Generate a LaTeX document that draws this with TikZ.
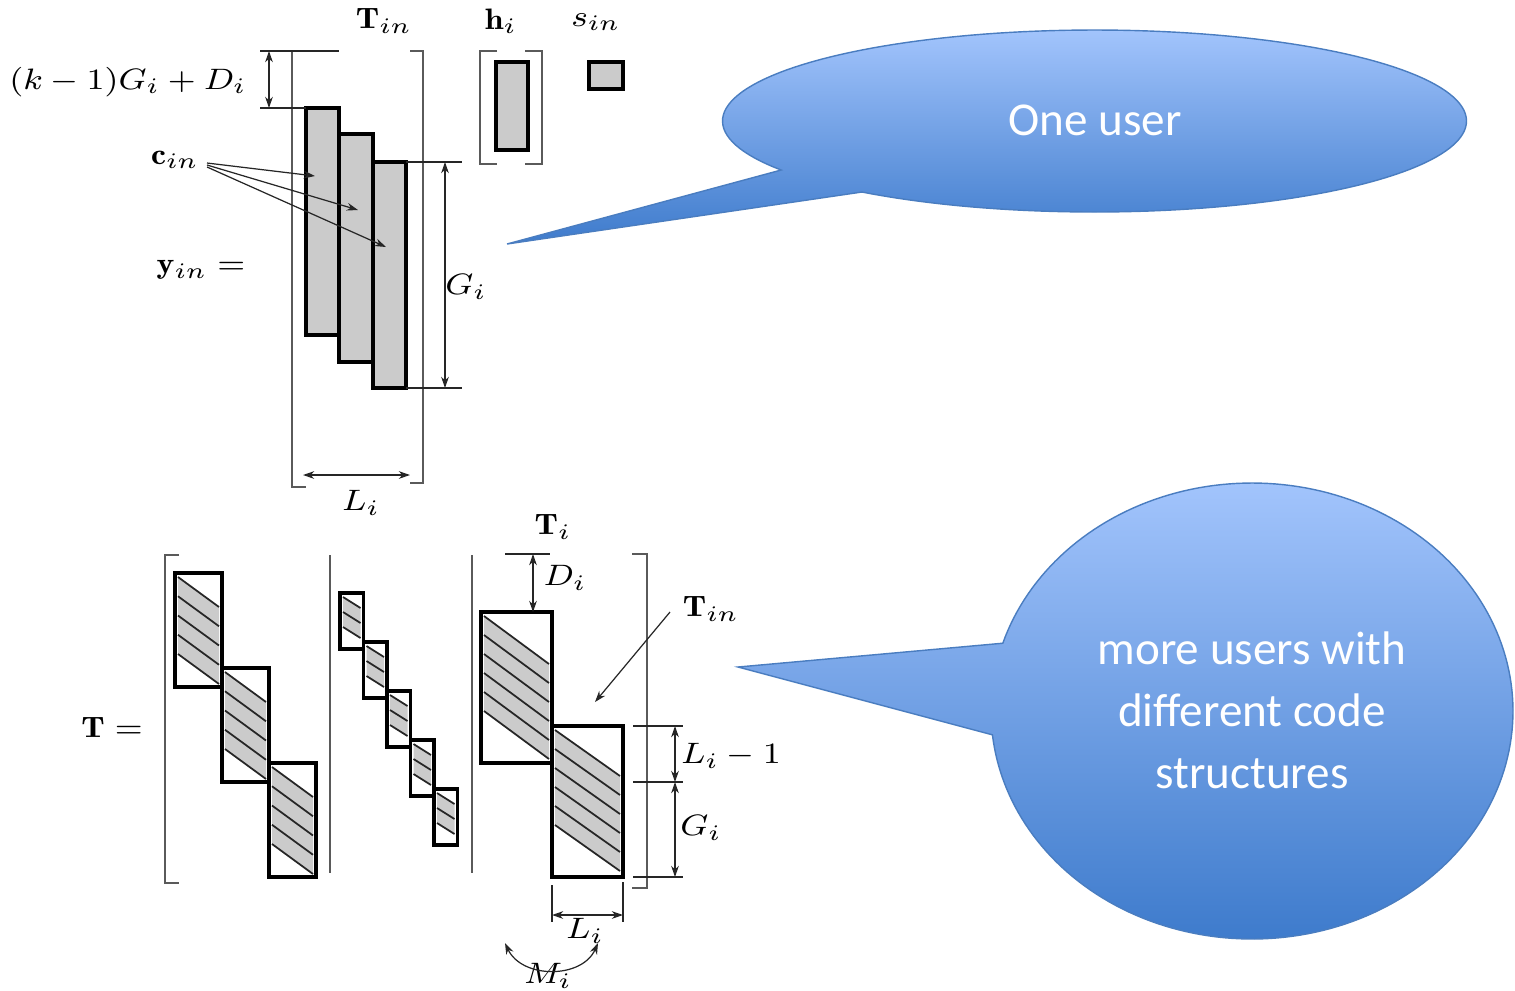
\documentclass[tikz,border=0pt]{standalone}
\usepackage{fontspec}
\usepackage{graphicx}
\newfontfamily\calloutfont{Carlito}
\usetikzlibrary{arrows.meta}

\definecolor{brk}{HTML}{5A5A5A}
\definecolor{boxgrey}{HTML}{CBCBCB}
\definecolor{bubtop}{HTML}{A2C4FC}
\definecolor{bubbot}{HTML}{3E7BCC}
\definecolor{bubedge}{HTML}{4A7DC0}

% math labels are set slightly wider than their natural shape
\newcommand{\lbl}[1]{\scalebox{1.2}[1.05]{$#1$}}

% hatched band block: x, y, width, height, band slope drop, band height, number of lines
\newcommand{\hblock}[7]{%
  \fill[hfill] ({#1+3},{#2+4}) -- ({#1+#3-3},{#2+4+#5}) -- ({#1+#3-3},{#2+4+#5+#6}) -- ({#1+3},{#2+4+#6}) -- cycle;
  \pgfmathtruncatemacro{\nlast}{#7-1}
  \foreach \k in {0,...,\nlast}{
    \draw[hline] ({#1+3},{#2+4+\k*#6/\nlast}) -- ({#1+#3-3},{#2+4+#5+\k*#6/\nlast});
  }
  \draw[blk] (#1,#2) rectangle ++(#3,#4);
}

\tikzset{
  lab/.style={inner sep=0pt, font=\fontsize{8}{10}\selectfont},
  brack/.style={draw=brk, line width=0.55pt},
  sepline/.style={draw=brk, line width=0.55pt},
  blk/.style={draw=black, line width=0.9pt},
  gbox/.style={blk, fill=boxgrey},
  dimline/.style={draw=black!85, line width=0.35pt},
  dimarr/.style={dimline, {Stealth[length=3.2pt,width=2.2pt]}-{Stealth[length=3.2pt,width=2.2pt]}},
  ptr/.style={dimline, -{Stealth[length=3.2pt,width=2.2pt]}},
  hfill/.style={fill=boxgrey},
  hline/.style={draw=black!85, line width=0.5pt},
  bubble/.style={top color=bubtop, bottom color=bubbot, draw=bubedge, line width=0.4pt},
  bubtext/.style={text=white, align=center, inner sep=0pt, font=\calloutfont\fontsize{13.4}{17.6}\selectfont},
}

\begin{document}
\begin{tikzpicture}[x=0.01cm, y=-0.01cm]
\useasboundingbox (0,0) rectangle (1515,990);

% ---------- single user: y_in = T_in h_i s_in ----------
\node[lab] (tinTop) at (384,21) {\lbl{\mathbf{T}_{in}}};
\node[lab] (hiLab) at (501,21) {\lbl{\mathbf{h}_i}};
\node[lab] (sinLab) at (596,22) {\lbl{s_{in}}};
\node[lab] (kgdLab) at (128,82) {\lbl{(k-1)G_i+D_i}};
\node[lab] (cinLab) at (175,160) {\lbl{\mathbf{c}_{in}}};
\node[lab] (yinLab) at (201,270) {\lbl{\mathbf{y}_{in}=}};
\node[lab] (giTop) at (466,287) {\lbl{G_i}};
\node[lab] (liTop) at (361,503) {\lbl{L_i}};

% matrix brackets
\draw[brack] (305,51) -- (292,51) -- (292,487) -- (306,487);
\draw[brack] (410,51) -- (423,51) -- (423,483) -- (410,483);
\draw[brack] (497,51) -- (480,51) -- (480,164) -- (497,164);
\draw[brack] (525,51) -- (542,51) -- (542,164) -- (525,164);

% code columns and the vectors
\draw[gbox] (306,108) rectangle (339,335);
\draw[gbox] (339,134) rectangle (373,362);
\draw[gbox] (373,162) rectangle (406,388);
\draw[gbox] (496,62) rectangle (528,150);
\draw[gbox] (589,62) rectangle (623,89);

% dimensions
\draw[dimline] (260,51) -- (339,51);
\draw[dimline] (260,108) -- (306,108);
\draw[dimarr] (269,51) -- (269,108);
\draw[dimline] (406,162) -- (462,162);
\draw[dimline] (406,388) -- (462,388);
\draw[dimarr] (445,162) -- (445,388);
\draw[dimarr] (303,475) -- (410,475);

% pointers from c_in
\coordinate (cinA) at (207,163);
\coordinate (cinB) at (207,165);
\coordinate (cinC) at (207,167);
\coordinate (colA) at (315,176);
\coordinate (colB) at (358,210);
\coordinate (colC) at (386,247);
\draw[ptr] (cinA) -- (colA);
\draw[ptr] (cinB) -- (colB);
\draw[ptr] (cinC) -- (colC);

% ---------- several users: T = [T_1 ... T_i ...] ----------
\node[lab] (tEq) at (112,728) {\lbl{\mathbf{T}=}};
\node[lab] (tiLab) at (553,527) {\lbl{\mathbf{T}_i}};
\node[lab] (diLab) at (565,578) {\lbl{D_i}};
\node[lab] (tinBot) at (711,609) {\lbl{\mathbf{T}_{in}}};
\node[lab] (liM1) at (731,756) {\lbl{L_i-1}};
\node[lab] (giBot) at (701,828) {\lbl{G_i}};
\node[lab] (liBot) at (585,931) {\lbl{L_i}};
\node[lab] (miLab) at (548,976) {\lbl{M_i}};

\draw[brack] (179,555) -- (165,555) -- (165,883) -- (179,883);
\draw[sepline] (330,555) -- (330,873);
\draw[sepline] (472,555) -- (472,873);
\draw[brack] (632,554) -- (647,554) -- (647,888) -- (632,888);

% first user
\hblock{175}{573}{47}{114}{30}{77}{5}
\hblock{222}{668}{47}{114}{30}{77}{5}
\hblock{269}{763}{47}{114}{30}{77}{5}
% second user
\hblock{340}{593}{23.5}{56}{11}{30}{3}
\hblock{363.5}{642}{23.5}{56}{11}{30}{3}
\hblock{387}{691}{23.5}{56}{11}{30}{3}
\hblock{410.5}{740}{23.5}{56}{11}{30}{3}
\hblock{434}{789}{23.5}{56}{11}{30}{3}
% user i
\hblock{481}{612}{71}{151}{48}{95}{6}
\hblock{552}{726}{71}{151}{46}{95}{6}

% dimensions of user i
\draw[dimline] (505,554) -- (550,554);
\draw[dimarr] (533,554) -- (533,612);
\draw[dimline] (633,726) -- (683,726);
\draw[dimline] (633,782) -- (683,782);
\draw[dimline] (633,877) -- (683,877);
\draw[dimarr] (675,726) -- (675,782);
\draw[dimarr] (675,782) -- (675,877);
\draw[dimline] (552,885) -- (552,922);
\draw[dimline] (623,882) -- (623,922);
\draw[dimarr] (552,915) -- (623,915);
\draw[dimarr] (505,943) .. controls (522,979) and (582,979) .. (598,943);
\coordinate (tinFrom) at (670,612);
\coordinate (tinTo) at (595,702);
\draw[ptr] (tinFrom) -- (tinTo);

% ---------- callouts ----------
\coordinate (tipA) at (507,244);
\shadedraw[bubble] (tipA) -- ({1094.5+372*cos(147.4)},{121+91*sin(147.4)})
  -- plot[domain=147.4:488.7, samples=160, variable=\t] ({1094.5+372*cos(\t)},{121+91*sin(\t)}) -- cycle;
\node[bubtext] (oneuser) at (1095,120) {One user};

\coordinate (tipB) at (738,667);
\shadedraw[bubble] (tipB) -- ({1252+261*cos(197.3)},{711+228*sin(197.3)})
  -- plot[domain=197.3:534, samples=200, variable=\t] ({1252+261*cos(\t)},{711+228*sin(\t)}) -- cycle;
\node[bubtext] (moreusers) at (1252,710) {more users with\\different code\\structures};
\end{tikzpicture}
\end{document}
